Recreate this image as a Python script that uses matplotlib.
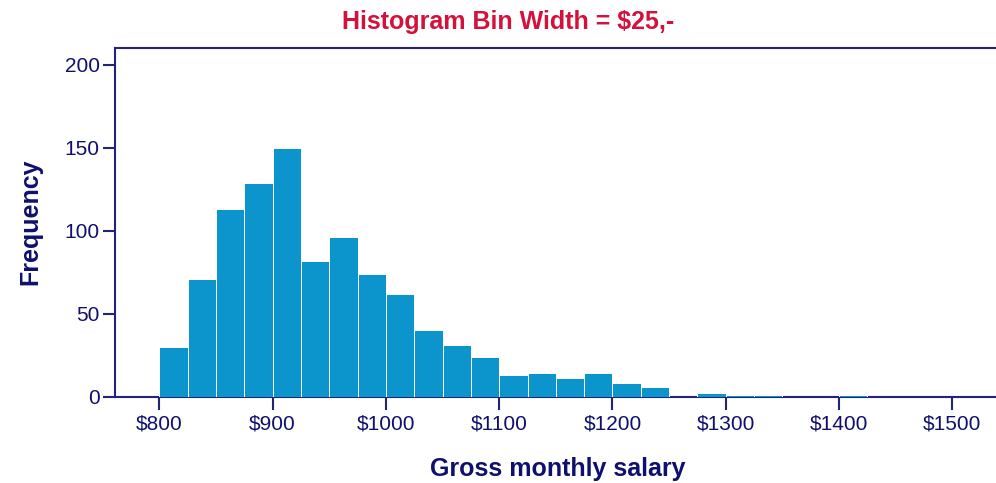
import numpy as np
import matplotlib
matplotlib.use("Agg")
import matplotlib.pyplot as plt

# histogram of gross monthly salary, bins of $25 starting at $800
bin_edges_start = [800, 825, 850, 875, 900, 925, 950, 975, 1000, 1025,
                   1050, 1075, 1100, 1125, 1150, 1175, 1200, 1225, 1250, 1275,
                   1300, 1325, 1350, 1375, 1400, 1425, 1450, 1475, 1500]
frequencies = [30, 71, 113, 129, 150, 82, 96, 74, 62, 40,
               31, 24, 13, 14, 11, 14, 8, 6, 0, 2,
               1, 1, 0, 0, 1, 0, 0, 0, 0]
bin_width = 25

x_ticks = [800, 900, 1000, 1100, 1200, 1300, 1400, 1500]
x_tick_labels = ["$800", "$900", "$1000", "$1100", "$1200", "$1300", "$1400", "$1500"]
y_ticks = [0, 50, 100, 150, 200]

NAVY = "#23237a"
LABEL_NAVY = "#0f0f6e"
BAR = "#0b95cc"
TITLE_RED = "#d4113c"

plt.rcParams["font.family"] = ["Liberation Sans", "DejaVu Sans"]

fig = plt.figure(figsize=(9.96, 4.83), dpi=100)
ax = fig.add_axes([115 / 996, 1 - 396.7 / 483, 1 - 115 / 996, (396.7 - 48) / 483])

ax.bar(bin_edges_start, frequencies, width=bin_width, align="edge",
       color=BAR, edgecolor="white", linewidth=0.7, zorder=3)

ax.set_xlim(760.9, 1538.5)
ax.set_ylim(0, 210.2)

ax.set_xticks(x_ticks)
ax.set_xticklabels(x_tick_labels)
ax.set_yticks(y_ticks)

for side in ["left", "top", "bottom"]:
    ax.spines[side].set_color(NAVY)
    ax.spines[side].set_linewidth(1.5)
    ax.spines[side].set_zorder(2)
ax.spines["right"].set_visible(False)

ax.tick_params(axis="both", colors=NAVY, labelcolor=LABEL_NAVY, labelsize=15,
               length=9, width=1.5, direction="out")
ax.tick_params(axis="y", pad=2)
ax.tick_params(axis="x", pad=4)

fig.text(508 / 996, 1 - 22 / 483, "Histogram Bin Width = $25,-", color=TITLE_RED,
         fontsize=18, fontweight="bold", ha="center", va="center")
fig.text(30 / 996, 1 - 222 / 483, "Frequency", color=LABEL_NAVY, rotation=90,
         fontsize=18, fontweight="bold", ha="center", va="center")
fig.text(558 / 996, 1 - 469 / 483, "Gross monthly salary", color=LABEL_NAVY,
         fontsize=18, fontweight="bold", ha="center", va="center")

fig.savefig("out.png", dpi=100)
